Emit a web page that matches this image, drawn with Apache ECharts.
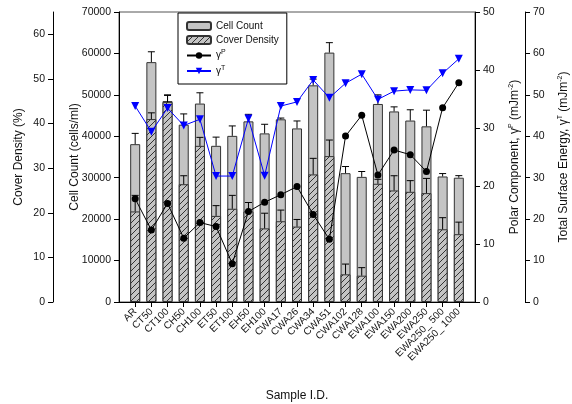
<!DOCTYPE html>
<html><head><meta charset="utf-8">
<script src="https://cdn.jsdelivr.net/npm/echarts@6/dist/echarts.min.js"></script>
<style>html,body{margin:0;padding:0;background:#fff}#c{width:572px;height:404px}</style>
</head><body><div id="c"></div>
<script>
const categories = ['AR','CT50','CT100','CH50','CH100','ET50','ET100','EH50','EH100','CWA17','CWA26','CWA34','CWA51','CWA102','CWA128','EWA100','EWA150','EWA200','EWA250','EWA250_ 500','EWA250_ 1000'];
const cellCount = [38100, 57900, 48500, 42800, 47900, 37700, 40100, 43600, 40700, 44100, 41900, 52300, 60200, 31100, 30200, 47800, 46000, 43800, 42400, 30300, 30000];
const cellSD = [2600, 2500, 1500, 2600, 2600, 2100, 2400, 1700, 2200, 300, 1800, 1500, 2400, 1600, 1300, 2200, 1100, 2600, 3900, 700, 500];
const coverDensity = [20.3, 41.0, 44.8, 26.4, 35.0, 19.3, 20.9, 20.3, 16.5, 18.1, 16.9, 28.6, 32.7, 6.2, 5.9, 26.5, 25.0, 24.7, 24.4, 16.3, 15.2];
const coverSD = [3.6, 1.4, 1.5, 1.9, 1.9, 2.3, 3.0, 2.0, 3.4, 2.5, 1.6, 3.6, 3.6, 2.3, 1.8, 1.0, 3.3, 2.5, 3.3, 2.6, 2.7];
const polar = [17.8, 12.4, 17.0, 11.0, 13.7, 13.0, 6.6, 15.6, 17.2, 18.5, 19.9, 15.1, 10.8, 28.6, 32.2, 21.9, 26.2, 25.4, 22.5, 33.5, 37.8];
const total = [47.3, 41.1, 46.8, 42.6, 44.1, 30.4, 30.4, 44.3, 30.5, 47.3, 48.3, 53.6, 49.3, 52.8, 55.0, 48.9, 50.9, 51.2, 51.1, 55.2, 58.7];
const coverTicks = [0, 10, 20, 30, 40, 50, 60];

const FONT = 'Liberation Sans, Arial, sans-serif';
const TXT = '#111';

// padded category axis (empty slot at each end)
const xCats = [''].concat(categories, ['']);
const pad = arr => [null].concat(arr, [null]);
const errData = (m, sd) => m.map((v, i) => [i + 1, v, v + sd[i]]);

// hatch pattern
const pc = document.createElement('canvas');
pc.width = 6; pc.height = 6;
const g = pc.getContext('2d');
g.fillStyle = '#c4c4c4'; g.fillRect(0, 0, 6, 6);
g.strokeStyle = '#222'; g.lineWidth = 0.9;
g.beginPath();
g.moveTo(0, 6); g.lineTo(6, 0);
g.moveTo(-1, 1); g.lineTo(1, -1);
g.moveTo(5, 7); g.lineTo(7, 5);
g.stroke();
const hatch = { image: pc, repeat: 'repeat' };

function errRender(params, api) {
  const x = api.value(0);
  const p0 = api.coord([x, api.value(1)]);
  const p1 = api.coord([x, api.value(2)]);
  const st = { stroke: '#000', lineWidth: 1 };
  return { type: 'group', children: [
    { type: 'line', shape: { x1: p0[0], y1: p0[1], x2: p1[0], y2: p1[1] }, style: st },
    { type: 'line', shape: { x1: p1[0] - 3.5, y1: p1[1], x2: p1[0] + 3.5, y2: p1[1] }, style: st }
  ]};
}

const sup = { fontSize: 7, fontFamily: FONT, color: TXT, padding: [0, 0, 6, 0] };
const axisCommon = {
  axisLine: { show: true, lineStyle: { color: '#000', width: 1 } },
  axisTick: { show: true, length: 5, lineStyle: { color: '#000' } },
  axisLabel: { color: TXT, fontFamily: FONT, fontSize: 10.5, formatter: v => String(v) },
  splitLine: { show: false },
  nameLocation: 'middle',
  nameMoveOverlap: false,
  nameTextStyle: { color: TXT, fontFamily: FONT, fontSize: 12, rich: { s: sup } }
};

const chart = echarts.init(document.getElementById('c'), null, { renderer: 'canvas' });
chart.setOption({
  animation: false,
  textStyle: { fontFamily: FONT },
  grid: { left: 119, right: 97, top: 12, bottom: 102, containLabel: false, outerBoundsMode: 'none',
          show: true, borderColor: '#555', borderWidth: 1 },
  legend: {
    orient: 'vertical', left: 178, top: 13,
    padding: [8, 8, 8, 8], itemGap: 4, itemWidth: 24, itemHeight: 8,
    borderColor: '#000', borderWidth: 1, backgroundColor: '#fff',
    data: ['Cell Count', 'Cover Density', 'γP', 'γT'],
    formatter: n => n === 'γP' ? 'γ{s|P}' : (n === 'γT' ? 'γ{s|T}' : n),
    textStyle: { color: TXT, fontFamily: FONT, fontSize: 10, rich: { s: sup } }
  },
  xAxis: {
    type: 'category', data: xCats, boundaryGap: false,
    name: 'Sample I.D.', nameLocation: 'middle', nameGap: 88, nameMoveOverlap: false,
    nameTextStyle: { color: TXT, fontFamily: FONT, fontSize: 12 },
    axisLine: { lineStyle: { color: '#000' } },
    axisTick: { length: 5, interval: (i) => i > 0 && i < xCats.length - 1, lineStyle: { color: '#000' } },
    axisLabel: { interval: 0, rotate: 45, margin: 8, color: TXT, fontFamily: FONT, fontSize: 10 },
    splitLine: { show: false }
  },
  yAxis: [
    Object.assign({}, axisCommon, {
      type: 'value', position: 'left', offset: 66, min: 0, max: 65, interval: 10,
      name: 'Cover Density (%)', nameGap: 28,
      axisLabel: Object.assign({}, axisCommon.axisLabel, { customValues: coverTicks }),
      axisTick: Object.assign({}, axisCommon.axisTick, { customValues: coverTicks })
    }),
    Object.assign({}, axisCommon, {
      type: 'value', position: 'left', offset: 0, min: 0, max: 70000, interval: 10000,
      name: 'Cell Count (cells/ml)', nameGap: 38
    }),
    Object.assign({}, axisCommon, {
      type: 'value', position: 'right', offset: 0, min: 0, max: 50, interval: 10,
      name: 'Polar Component, γ{s|P} (mJm{s|-2})', nameGap: 33
    }),
    Object.assign({}, axisCommon, {
      type: 'value', position: 'right', offset: 50, min: 0, max: 70, interval: 10,
      name: 'Total Surface Energy, γ{s|T} (mJm{s|-2})', nameGap: 32
    })
  ],
  series: [
    { name: 'Cell Count', type: 'bar', yAxisIndex: 1, data: pad(cellCount), barWidth: 10, z: 2,
      itemStyle: { color: '#c4c4c4', borderColor: '#333', borderWidth: 1 } },
    { name: 'Cover Density', type: 'bar', yAxisIndex: 0, data: pad(coverDensity), barWidth: 10, barGap: '-100%', z: 3,
      itemStyle: { color: hatch, borderColor: '#333', borderWidth: 1 } },
    { name: 'cellErr', type: 'custom', yAxisIndex: 1, data: errData(cellCount, cellSD), renderItem: errRender,
      encode: { x: 0, y: [1, 2] }, z: 4, silent: true },
    { name: 'coverErr', type: 'custom', yAxisIndex: 0, data: errData(coverDensity, coverSD), renderItem: errRender,
      encode: { x: 0, y: [1, 2] }, z: 4, silent: true },
    { name: 'γP', type: 'line', yAxisIndex: 2, data: pad(polar), z: 5,
      symbol: 'circle', symbolSize: 7, lineStyle: { color: '#000', width: 1 }, itemStyle: { color: '#000' } },
    { name: 'γT', type: 'line', yAxisIndex: 3, data: pad(total), z: 6,
      symbol: 'triangle', symbolRotate: 180, symbolSize: 8, lineStyle: { color: '#0000ff', width: 1 }, itemStyle: { color: '#0000ff' } }
  ]
});
</script></body></html>
